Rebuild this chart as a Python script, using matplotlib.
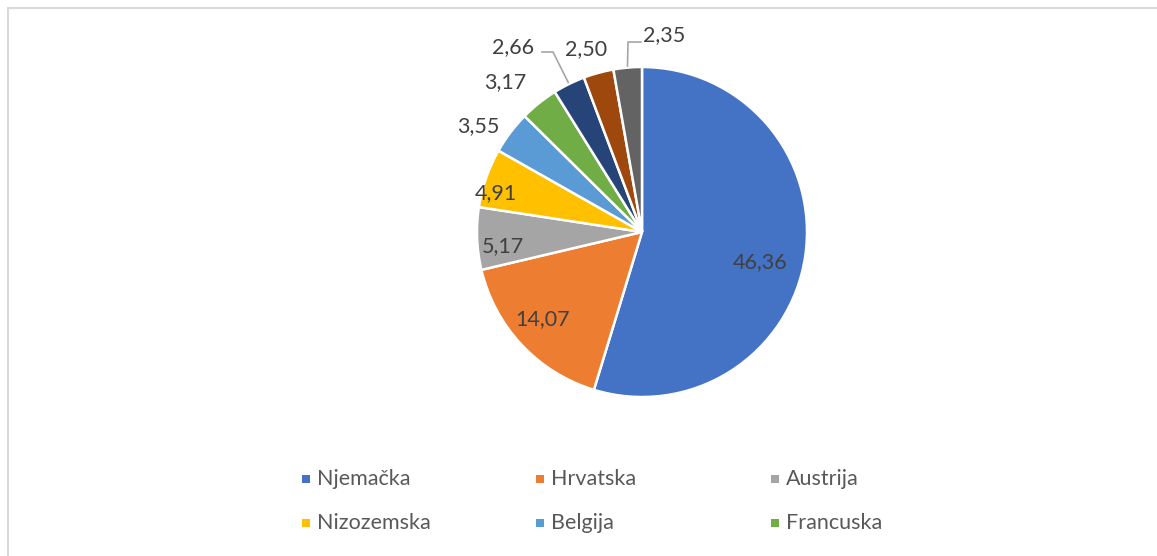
import numpy as np
import matplotlib
matplotlib.use("Agg")
import matplotlib.pyplot as plt
from matplotlib.patches import Rectangle

# ---- data ----
values = [46.36, 14.07, 5.17, 4.91, 3.55, 3.17, 2.66, 2.50, 2.35]
value_labels = ["46,36", "14,07", "5,17", "4,91", "3,55", "3,17", "2,66", "2,50", "2,35"]
legend_names = ["Njemačka", "Hrvatska", "Austrija", "Nizozemska", "Belgija", "Francuska"]
colors = ["#4472C4", "#ED7D31", "#A5A5A5", "#FFC000", "#5B9BD5", "#70AD47",
          "#264478", "#9E480E", "#636363"]

W, H = 1157, 556
FONT = ["Lato", "DejaVu Sans"]
plt.rcParams['font.family'] = FONT

fig = plt.figure(figsize=(W / 100, H / 100), dpi=100)
ax = fig.add_axes([0, 0, 1, 1])

def sy(y):
    return H - y

cx, cy, R = 642, sy(232), 165
wedges, _ = ax.pie(values, colors=colors, startangle=90, counterclock=False,
                   center=(cx, cy), radius=R, normalize=True,
                   wedgeprops=dict(edgecolor="white", linewidth=1.8))
ax.set_xlim(0, W)
ax.set_ylim(0, H)
ax.set_aspect('auto')
ax.axis('off')

# chart border (left and top visible)
ax.plot([8, 8, W + 5], [sy(H + 5), sy(8), sy(8)], color="#D9D9D9", lw=1.5,
        solid_joinstyle='miter', zorder=1, clip_on=False)

# label placement (angle in degrees, distance in radii)
label_pos = [(-14.3, 0.74), (-138.7, 0.80), (-174.2, 0.846), (164.9, 0.916),
             (147.2, 1.18), (132.4, 1.23), (124.8, 1.366), (107.1, 1.16), (83.6, 1.20)]
for lab, (ang, d) in zip(value_labels, label_pos):
    a = np.deg2rad(ang)
    ax.text(cx + d * R * np.cos(a), cy + d * R * np.sin(a), lab,
            ha="center", va="center", fontsize=15.5, color="#404040")

# leader lines for 2,66 and 2,35
def mid_point(w, r=1.0):
    m = np.deg2rad((w.theta1 + w.theta2) / 2)
    return cx + r * R * np.cos(m), cy + r * R * np.sin(m)

x0, y0 = mid_point(wedges[6], 1.01)
ax.plot([x0, 553, 542], [y0, sy(52), sy(52)], color="#A6A6A6", lw=1.2, zorder=5)
x0, y0 = mid_point(wedges[8], 1.01)
ax.plot([x0, 628, 641], [y0, sy(42), sy(42)], color="#A6A6A6", lw=1.2, zorder=5)

# legend (first six categories)
col_x = [306, 540, 775]
row_y = [479, 523]
for i, name in enumerate(legend_names):
    c, r = i % 3, i // 3
    ax.add_patch(Rectangle((col_x[c] - 4, sy(row_y[r]) - 4), 8, 8,
                           facecolor=colors[i], edgecolor="none"))
    ax.text(col_x[c] + 11, sy(row_y[r]), name, ha="left", va="center",
            fontsize=15.5, color="#595959")

fig.savefig("out.png", dpi=100, facecolor="white")
